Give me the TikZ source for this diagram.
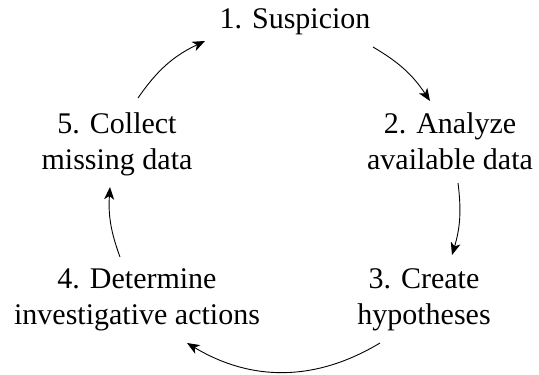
\documentclass[tikz,border=0pt]{standalone}
\usepackage{fontspec}
\setmainfont{Liberation Serif}
\usetikzlibrary{arrows.meta}
\begin{document}
\begin{tikzpicture}[x=1bp,y=1bp,
  stage/.style={align=center, anchor=base, inner sep=0pt,
    font=\fontsize{30bp}{36bp}\selectfont},
  flow/.style={-{Stealth[length=12.5bp,width=10bp,inset=3.5bp]}, line width=0.9bp}]
\useasboundingbox (0,0) rectangle (539,374);
% the five stages of the cycle (base = baseline of the last line)
\node[stage] (n1) at (295,346) {1. Suspicion};
\node[stage] (n2) at (450,205) {2. Analyze\\available data};
\node[stage] (n3) at (424,50) {3. Create\\hypotheses};
\node[stage] (n4) at (137,50) {4. Determine\\investigative actions};
\node[stage] (n5) at (117,205) {5. Collect\\missing data};
% curved arrows running clockwise between the stages
\draw[flow] ([shift={(78,-19)}]n1.base) to[bend left=13] ([shift={(-20,68)}]n2.base);
\draw[flow] ([shift={(8,-14)}]n2.base) to[bend left=12] ([shift={(28,69)}]n3.base);
\draw[flow] ([shift={(-44,-19)}]n3.base) to[bend left=31] ([shift={(50,-19)}]n4.base);
\draw[flow] ([shift={(-17,67)}]n4.base) to[bend left=12] ([shift={(-7,-18)}]n5.base);
\draw[flow] ([shift={(21,71)}]n5.base) to[bend left=15] ([shift={(-90,-13)}]n1.base);
\end{tikzpicture}
\end{document}
